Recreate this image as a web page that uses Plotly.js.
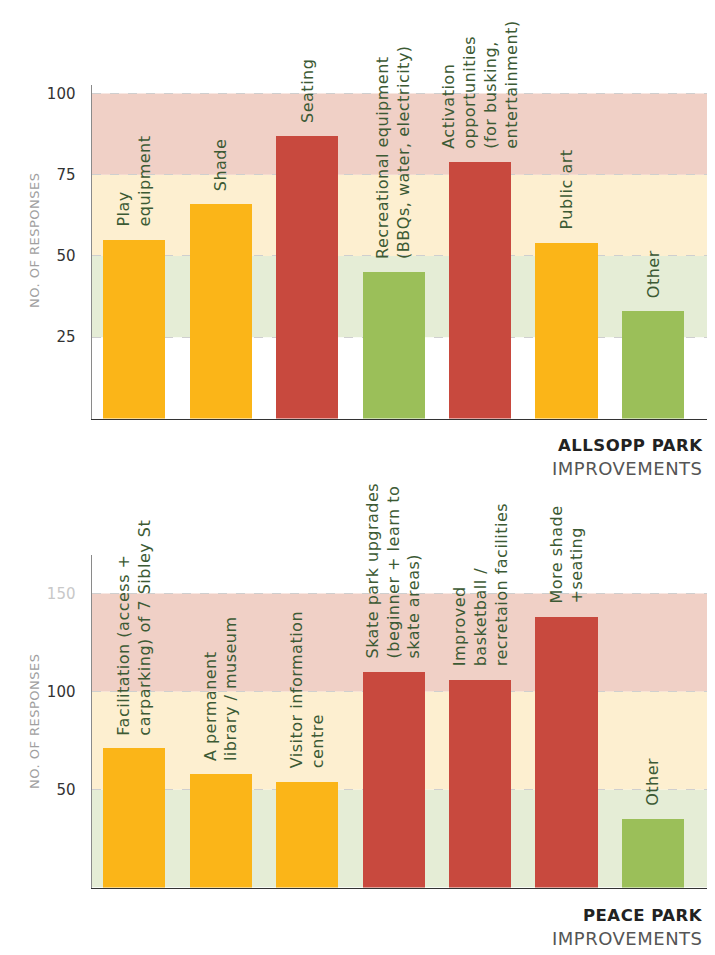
<!DOCTYPE html>
<html>
<head>
<meta charset="utf-8">
<script src="https://cdn.plot.ly/plotly-3.0.1.min.js"></script>
<style>
html, body { margin: 0; padding: 0; background: #fff; }
#chart { width: 715px; height: 955px; }
text.annotation-text { letter-spacing: 0.5px; }
</style>
</head>
<body>
<div id="chart"></div>
<script>
// ---- Data ----
const allsoppLabels = [
  "Play<br>equipment",
  "Shade",
  "Seating",
  "Recreational equipment<br>(BBQs, water, electricity)",
  "Activation<br>opportunities<br>(for busking,<br>entertainment)",
  "Public art",
  "Other"
];
const allsoppValues = [55, 66, 87, 45, 79, 54, 33];
const allsoppTicks = [25, 50, 75, 100];
const allsoppBands = [25, 50, 75, 100];

const peaceLabels = [
  "Facilitation (access +<br>carparking) of 7 Sibley St",
  "A permanent<br>library / museum",
  "Visitor information<br>centre",
  "Skate park upgrades<br>(beginner + learn to<br>skate areas)",
  "Improved<br>basketball /<br>recretaion facilities",
  "More shade<br>+seating",
  "Other"
];
const peaceValues = [71, 58, 54, 110, 106, 138, 35];
const peaceTicks = [50, 100, 150];
const peaceBands = [0, 50, 100, 150];

// ---- Styles ----
const GREEN = '#9bbf59', YELLOW = '#fbb518', RED = '#c8493e';
const BAND_GREEN = '#e5edd6', BAND_YELLOW = '#fdefd0', BAND_RED = '#f0d0c6';
const LABEL_COLOR = '#3c5a34';
const FONT = 'DejaVu Sans, sans-serif';

function colorFor(v, bands) {
  if (v >= bands[2]) return RED;
  if (v >= bands[1]) return YELLOW;
  return GREEN;
}

const W = 715, H = 955;
const xDom = [92 / W, 707 / W];
const topDom = [(H - 418.5) / H, (H - 85) / H];
const botDom = [(H - 887.5) / H, (H - 555) / H];

const idx = allsoppValues.map((_, i) => i);

const traces = [
  {
    type: 'bar', x: idx, y: allsoppValues, xaxis: 'x', yaxis: 'y',
    marker: { color: allsoppValues.map(v => colorFor(v, allsoppBands)) },
    width: 0.72, hoverinfo: 'skip'
  },
  {
    type: 'bar', x: idx, y: peaceValues, xaxis: 'x2', yaxis: 'y2',
    marker: { color: peaceValues.map(v => colorFor(v, peaceBands)) },
    width: 0.72, hoverinfo: 'skip'
  }
];

function bandShapes(bands, xref, yref) {
  const cols = [BAND_GREEN, BAND_YELLOW, BAND_RED];
  const out = [];
  for (let i = 0; i < 3; i++) {
    out.push({
      type: 'rect', xref: xref + ' domain', yref: yref,
      x0: 0, x1: 1, y0: bands[i], y1: bands[i + 1],
      fillcolor: cols[i], line: { width: 0 }, layer: 'below'
    });
  }
  return out;
}

function labelAnns(labels, values, xref, yref) {
  return labels.map((t, i) => ({
    text: t, x: i, y: values[i], xref: xref, yref: yref,
    textangle: -90, xanchor: 'center', yanchor: 'bottom', yshift: 11,
    align: 'left', showarrow: false,
    font: { family: FONT, size: 16, color: LABEL_COLOR }
  }));
}

const yAxisCommon = {
  showline: true, linecolor: '#8a8a8a', linewidth: 1.5,
  showgrid: true, gridcolor: '#cfcfcf', griddash: 'dash', gridwidth: 1,
  zeroline: false, ticks: '', ticklabelstandoff: 12,
  tickfont: { family: FONT, size: 15, color: '#333' },
  fixedrange: true
};
const xAxisCommon = {
  showline: true, linecolor: '#333', linewidth: 1.5,
  showticklabels: false, showgrid: false, zeroline: false, ticks: '',
  range: [-0.49, 6.625], domain: xDom, fixedrange: true
};

const titleAnns = [
  { text: '<b>ALLSOPP PARK</b>', x: 705 / W, y: (H - 445) / H },
  { text: 'IMPROVEMENTS', x: 705 / W, y: (H - 468) / H, gray: true },
  { text: '<b>PEACE PARK</b>', x: 705 / W, y: (H - 915) / H },
  { text: 'IMPROVEMENTS', x: 705 / W, y: (H - 938.5) / H, gray: true }
].map(a => ({
  text: a.text, x: a.x, y: a.y, xref: 'paper', yref: 'paper',
  xanchor: 'right', yanchor: 'middle', showarrow: false,
  font: { family: FONT, size: a.gray ? 18 : 16.5, color: a.gray ? '#555' : '#222' }
}));

const axisTitleAnns = [
  { y: (H - 240) / H }, { y: (H - 721) / H }
].map(a => ({
  text: 'NO. OF RESPONSES', x: 34 / W, y: a.y, xref: 'paper', yref: 'paper',
  textangle: -90, xanchor: 'center', yanchor: 'middle', showarrow: false,
  font: { family: FONT, size: 13, color: '#a0a0a0' }
}));

const layout = {
  width: W, height: H,
  margin: { l: 0, r: 0, t: 0, b: 0 },
  paper_bgcolor: '#fff', plot_bgcolor: 'rgba(0,0,0,0)',
  showlegend: false, bargap: 0,
  xaxis: Object.assign({}, xAxisCommon, { anchor: 'y' }),
  xaxis2: Object.assign({}, xAxisCommon, { anchor: 'y2' }),
  yaxis: Object.assign({}, yAxisCommon, {
    domain: topDom, range: [0, 102.6], anchor: 'x',
    tickvals: allsoppTicks, ticktext: allsoppTicks.map(String)
  }),
  yaxis2: Object.assign({}, yAxisCommon, {
    domain: botDom, range: [0, 169.6], anchor: 'x2',
    tickvals: peaceTicks,
    ticktext: peaceTicks.map((v, i) => i === peaceTicks.length - 1
      ? '<span style="color:#c8c8c8">' + v + '</span>' : String(v))
  }),
  shapes: bandShapes(allsoppBands, 'x', 'y').concat(bandShapes(peaceBands, 'x2', 'y2')),
  annotations: labelAnns(allsoppLabels, allsoppValues, 'x', 'y')
    .concat(labelAnns(peaceLabels, peaceValues, 'x2', 'y2'))
    .concat(titleAnns).concat(axisTitleAnns)
};

Plotly.newPlot('chart', traces, layout, { displayModeBar: false, staticPlot: true });
</script>
</body>
</html>
